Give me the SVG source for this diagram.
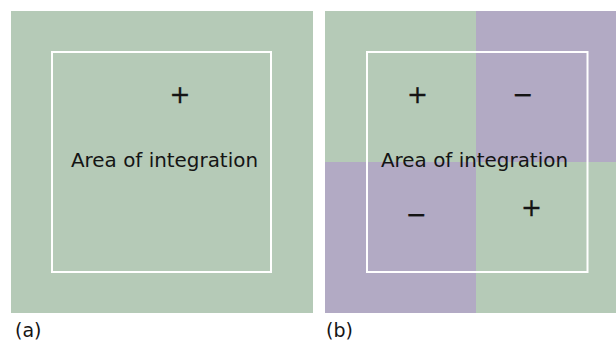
<svg xmlns="http://www.w3.org/2000/svg" width="616" height="343" viewBox="0 0 616 343">
<style>
.g{fill:#b5cab7}
.p{fill:#b2aac4}
.frame{fill:none;stroke:#ffffff;stroke-width:2}
text{font-family:"DejaVu Sans","Liberation Sans",sans-serif;fill:#141414}
.lbl{font-size:19.5px}
.sign{font-size:25px;text-anchor:middle;stroke:#141414;stroke-width:0.3}
.cap{font-size:19px}
</style>
<rect width="616" height="343" fill="#ffffff"/>
<g id="panel-a">
<rect class="g" x="11" y="11" width="302" height="302"/>
<rect class="frame" x="52" y="52" width="219" height="220"/>
<text class="sign" x="180" y="103">+</text>
<text class="lbl" x="71" y="167" textLength="187" lengthAdjust="spacingAndGlyphs">Area of integration</text>
<text class="cap" x="15" y="337">(a)</text>
</g>
<g id="panel-b">
<rect class="g" x="325" y="11" width="151" height="151"/>
<rect class="p" x="476" y="11" width="140" height="151"/>
<rect class="p" x="325" y="162" width="151" height="151"/>
<rect class="g" x="476" y="162" width="140" height="151"/>
<rect class="frame" x="367" y="52" width="220.5" height="220"/>
<text class="sign" x="417.5" y="103">+</text>
<text class="sign" x="523" y="102.5">−</text>
<text class="lbl" x="381" y="167" textLength="187" lengthAdjust="spacingAndGlyphs">Area of integration</text>
<text class="sign" x="416.5" y="223">−</text>
<text class="sign" x="531.5" y="216">+</text>
<text class="cap" x="326" y="337">(b)</text>
</g>
</svg>
